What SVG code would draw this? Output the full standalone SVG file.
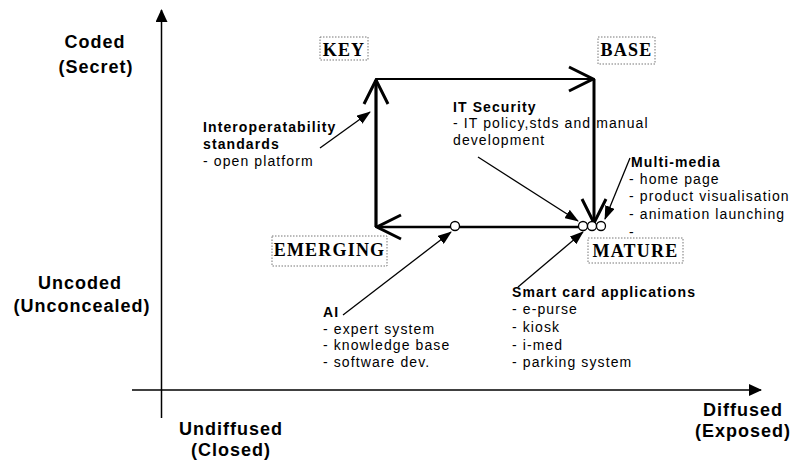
<svg xmlns="http://www.w3.org/2000/svg" width="794" height="466" viewBox="0 0 794 466">
<style>
.big{font-family:"Liberation Sans",Arial,sans-serif;font-weight:bold;font-size:18px;letter-spacing:1px;fill:#000;text-anchor:middle}
.hd{font-family:"Liberation Sans",Arial,sans-serif;font-weight:bold;font-size:14px;letter-spacing:1.1px;fill:#000}
.it{font-family:"Liberation Sans",Arial,sans-serif;font-size:14px;letter-spacing:1.1px;fill:#000}
.stage{font-family:"Liberation Serif","Times New Roman",serif;font-weight:bold;font-size:18px;letter-spacing:1.2px;fill:#000;text-anchor:middle}
.sbox{fill:none;stroke:#777;stroke-width:1;stroke-dasharray:1.5,1.5}
.axis{stroke:#000;stroke-width:1.5;fill:none}
.cyc{stroke:#000;fill:none}
.ann{stroke:#000;stroke-width:1.3;fill:none}
.dot{fill:#fff;stroke:#000;stroke-width:1.3}
</style>
<defs>
<marker id="fill" markerUnits="userSpaceOnUse" markerWidth="14" markerHeight="10" viewBox="0 0 14 10" refX="13" refY="5" orient="auto">
<path d="M0,0 L14,5 L0,10 Z" fill="#000"/>
</marker>
<marker id="axh" markerUnits="userSpaceOnUse" markerWidth="13" markerHeight="12" viewBox="0 0 13 12" refX="12" refY="6" orient="auto">
<path d="M0,0 L13,6 L0,12 Z" fill="#000"/>
</marker>
<marker id="vopen" markerUnits="userSpaceOnUse" markerWidth="28" markerHeight="28" viewBox="0 0 28 28" refX="26" refY="14" orient="auto">
<path d="M2,2 L26,14 L2,26" fill="none" stroke="#000" stroke-width="3"/>
</marker>
</defs>
<rect width="794" height="466" fill="#fff"/>

<g id="axes">
<line class="axis" x1="161.5" y1="418" x2="161.5" y2="10" marker-end="url(#axh)"/>
<line class="axis" x1="132" y1="390" x2="761" y2="390" marker-end="url(#axh)"/>
</g>

<g id="axis-labels">
<g id="label-coded"><text class="big" x="95" y="48">Coded</text><text class="big" x="96" y="73">(Secret)</text></g>
<g id="label-uncoded"><text class="big" x="80" y="289">Uncoded</text><text class="big" x="82" y="312">(Unconcealed)</text></g>
<g id="label-undiffused"><text class="big" x="231" y="435">Undiffused</text><text class="big" x="231" y="456">(Closed)</text></g>
<g id="label-diffused"><text class="big" x="743" y="416">Diffused</text><text class="big" x="743" y="437">(Exposed)</text></g>
</g>

<g id="connectors">
<path class="cyc" stroke-width="3.2" d="M376,227 L376,80" marker-end="url(#vopen)"/>
<path class="cyc" stroke-width="2.2" d="M376,79 L593,79" marker-end="url(#vopen)"/>
<path class="cyc" stroke-width="3" d="M594,79 L594,223" marker-end="url(#vopen)"/>
<path class="cyc" stroke-width="2.5" d="M594,227 L377,227" marker-end="url(#vopen)"/>
<line class="ann" x1="320" y1="148" x2="370" y2="112" marker-end="url(#fill)"/>
<line class="ann" x1="478" y1="157" x2="578" y2="221" marker-end="url(#fill)"/>
<line class="ann" x1="630" y1="158" x2="605" y2="219" marker-end="url(#fill)"/>
<line class="ann" x1="343" y1="315" x2="451" y2="232" marker-end="url(#fill)"/>
<line class="ann" x1="518" y1="287" x2="583" y2="232" marker-end="url(#fill)"/>
</g>

<g id="points">
<circle class="dot" cx="455" cy="226" r="4.5"/>
<circle class="dot" cx="583" cy="226" r="4.5"/>
<circle class="dot" cx="592" cy="226" r="4.5"/>
<circle class="dot" cx="601" cy="226" r="4.5"/>
</g>

<g id="stage-key"><rect class="sbox" x="320" y="37" width="48" height="23"/><text class="stage" x="344" y="56">KEY</text></g>
<g id="stage-base"><rect class="sbox" x="598" y="37" width="57" height="27"/><text class="stage" x="626.5" y="56">BASE</text></g>
<g id="stage-emerging"><rect class="sbox" x="272" y="236" width="115" height="30"/><text class="stage" x="329.5" y="256">EMERGING</text></g>
<g id="stage-mature"><rect class="sbox" x="588" y="238" width="95" height="25"/><text class="stage" x="635.5" y="257">MATURE</text></g>

<g id="note-interop">
<text class="hd" x="203" y="132">Interoperatability</text>
<text class="hd" x="203" y="149">standards</text>
<text class="it" x="203" y="166">- open platform</text>
</g>

<g id="note-itsecurity">
<text class="hd" x="453" y="112">IT Security</text>
<text class="it" x="453" y="128">- IT policy,stds and manual</text>
<text class="it" x="453" y="145">development</text>
</g>

<g id="note-multimedia">
<text class="hd" x="631" y="167">Multi-media</text>
<text class="it" x="629" y="184">- home page</text>
<text class="it" x="629" y="201">- product visualisation</text>
<text class="it" x="629" y="219">- animation launching</text>
<text class="it" x="629" y="237">-</text>
</g>

<g id="note-ai">
<text class="hd" x="323" y="317">AI</text>
<text class="it" x="323" y="334">- expert system</text>
<text class="it" x="323" y="350">- knowledge base</text>
<text class="it" x="323" y="367">- software dev.</text>
</g>

<g id="note-smartcard">
<text class="hd" x="512" y="297">Smart card applications</text>
<text class="it" x="512" y="314">- e-purse</text>
<text class="it" x="512" y="332">- kiosk</text>
<text class="it" x="512" y="350">- i-med</text>
<text class="it" x="512" y="367">- parking system</text>
</g>
</svg>
